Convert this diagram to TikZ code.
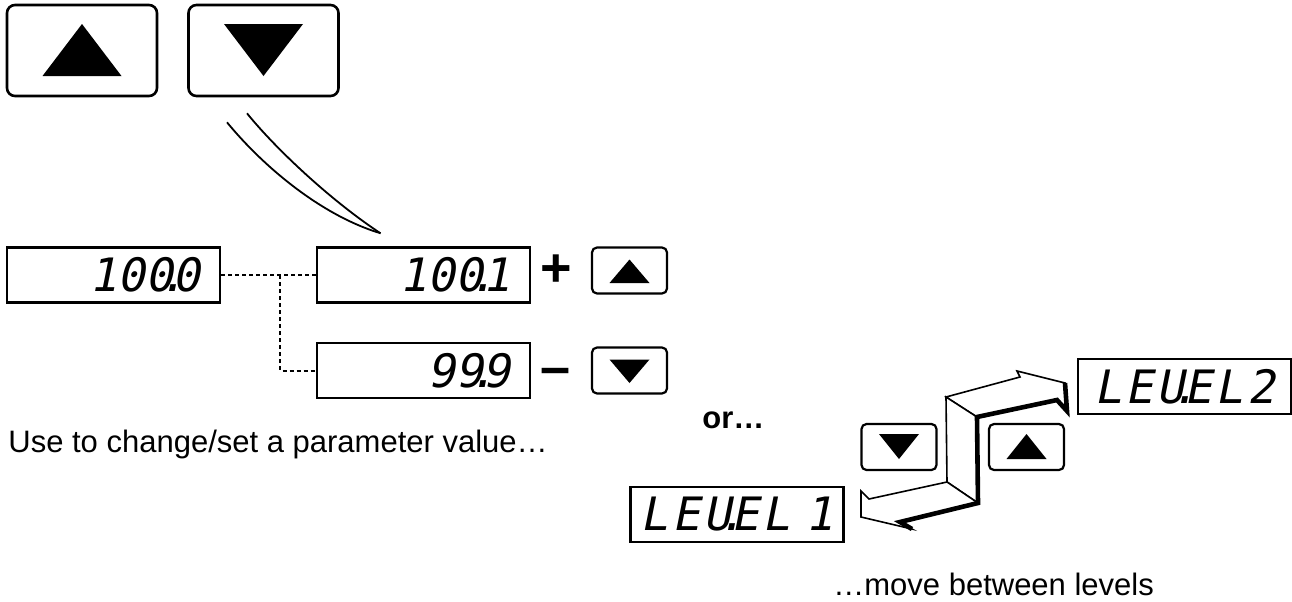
\documentclass[tikz,border=0pt]{standalone}
\usepackage{fontspec}
\setmainfont{Liberation Sans}
\newfontfamily\segfont{DejaVu Sans Mono}[FakeSlant=0.2]
\usetikzlibrary{calc}
% decimal point that takes almost no room between two digits
\newcommand\segdot{\kern-.3em.\kern-.3em}

\begin{document}
\begin{tikzpicture}[
        x=0.5pt, y=-0.5pt,
        every node/.style={font=\fontsize{15.5}{18}\selectfont},
        % Key styles
        bigkey/.style={
            draw,
            line width=1.3pt,
            rounded corners=4pt,
            minimum width=75pt,
            minimum height=45.5pt,
            inner sep=0pt
        },
        smallkey/.style={
            draw,
            line width=1.1pt,
            rounded corners=2.5pt,
            minimum width=37.5pt,
            minimum height=23pt,
            inner sep=0pt
        },
        % Display styles
        display/.style={
            draw,
            line width=1.25pt,
            minimum height=27.5pt,
            text width=87pt,
            inner xsep=9.75pt,
            inner ysep=0pt,
            align=right,
            font=\segfont\fontsize{23}{23}\selectfont
        },
        leveldisplay/.style={
            display,
            text width=98.5pt,
            inner xsep=4pt,
            align=center,
            font=\segfont\fontsize{23}{23}\selectfont\addfontfeature{LetterSpace=8}
        },
        caption/.style={inner sep=0pt, anchor=base west},
        sign/.style={font=\bfseries\fontsize{27}{27}\selectfont, inner sep=0pt},
        % Connector styles
        dotline/.style={line width=1pt, dash pattern=on 2pt off 1.5pt},
        tail/.style={line width=0.9pt},
        ribbon/.style={draw, fill=white, line width=0.8pt, line join=miter},
        ribbonedge/.style={line width=2.3pt, line join=miter}
    ]
    \useasboundingbox (0,0) rectangle (1292,601);

    % --- Big keys (Top) ---
    \node[bigkey] (keyup)   at (82,50.5)    {};
    \node[bigkey] (keydown) at (263.5,50.5) {};

    % --- Parameter value ---
    \node[display] (val)     at (113.5,275)   {100\segdot0};
    \node[display] (valup)   at (423.5,275)   {100\segdot1};
    \node[display] (valdown) at (423.5,370.5) {99\segdot9\hspace{17pt}};

    \node[sign] (plus)  at (556,271)   {+};
    \node[sign] (minus) at (555.5,377) {–};
    \node[smallkey] (incup)   at (629.5,270.5) {};
    \node[smallkey] (incdown) at (629.5,370.5) {};

    % --- Levels ---
    \node[leveldisplay] (lvlone) at (737,514.5)    {LEU\segdot EL 1};
    \node[leveldisplay] (lvltwo) at (1184.5,386.5) {LEU\segdot EL2};
    \node[smallkey] (lvldown) at (899,447)    {};
    \node[smallkey] (lvlup)   at (1026.5,447) {};

    % Triangles on the keys: base offset and apex offset
    \foreach \k/\w/\b/\a in {keyup/39.5/25.5/-26.5, keydown/39.5/-26.5/25.5,
                             incup/20/12.5/-11, incdown/20/-11/12.5,
                             lvlup/20/12/-13, lvldown/20/-13/12}
        \fill ($(\k)+(-\w,\b)$) -- ($(\k)+(\w,\b)$) -- ($(\k)+(0,\a)$) -- cycle;

    % --- Paths & Connections ---
    \coordinate (split)   at (280,275);
    \coordinate (tailend) at ($(valup.north)+(-43,-13)$);

    \draw[dotline] (val.east) -- (valup.west);
    \draw[dotline] (split) |- (valdown.west);

    % tail from the down key onto the new value
    \draw[tail] ($(keydown.south)+(-36.5,25)$) .. controls (262,165) and (320,215) .. (tailend);
    \draw[tail] ($(keydown.south)+(-16.5,16)$) .. controls (275,148) and (330,200) .. (tailend);

    % Z shaped ribbon between the two levels
    \filldraw[ribbon] (946,397) -- (1020,377) -- (1017,371) -- (1065,383)
        -- (1067,411) -- (1057,400) -- (977,417) -- cycle;
    \filldraw[ribbon] (946,397) -- (977,417) -- (978,503) -- (947,482) -- cycle;
    \filldraw[ribbon] (947,482) -- (869,499) -- (861,491) -- (861,517)
        -- (912,529) -- (900,522) -- (978,503) -- cycle;
    \draw[ribbonedge] (1065,383) -- (1067,411) -- (1057,400) -- (977,417)
        -- (978,503) -- (900,522) -- (912,529);

    % --- Captions ---
    \node[caption] (usetxt)  at (8,452)   {Use to change/set a parameter value…};
    \node[caption, font=\bfseries\fontsize{15.5}{18}\selectfont] (ortxt) at (702,428) {or…};
    \node[caption] (movetxt) at (833,595) {…move between levels};

\end{tikzpicture}
\end{document}
